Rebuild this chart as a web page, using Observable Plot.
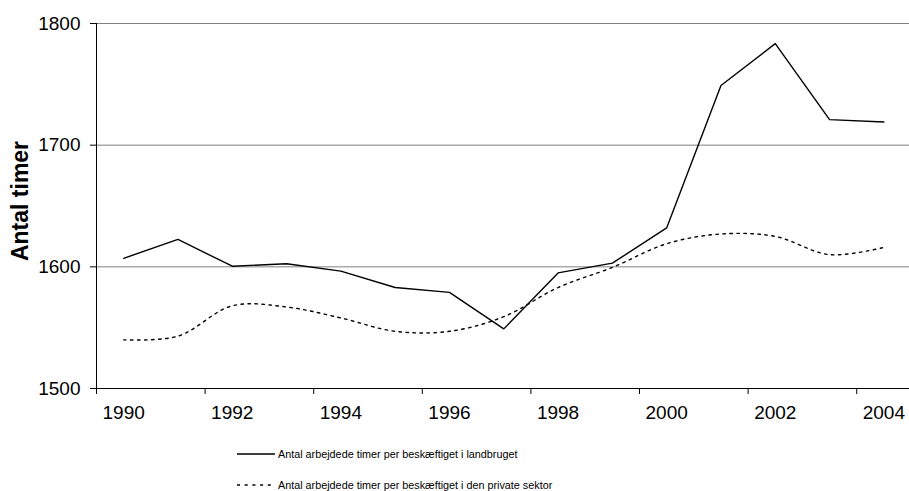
<!DOCTYPE html>
<html>
<head>
<meta charset="utf-8">
<script src="https://cdn.jsdelivr.net/npm/d3@7"></script>
<script src="https://cdn.jsdelivr.net/npm/@observablehq/plot@0.6"></script>
<style>
  html, body { margin: 0; padding: 0; background: #fff; }
  #wrap { position: relative; width: 909px; height: 491px; overflow: hidden; font-family: "Liberation Sans", Arial, sans-serif; }
  .leg { position: absolute; left: 237px; font-size: 10.8px; line-height: 12px; color: #000; display: flex; align-items: center; white-space: nowrap; }
  .leg svg { margin-right: 3px; }
</style>
</head>
<body>
<div id="wrap"></div>
<script>
const years = [1990,1991,1992,1993,1994,1995,1996,1997,1998,1999,2000,2001,2002,2003,2004];
const landbrug = [1607,1622.5,1600.5,1602.5,1596.5,1583,1579,1549,1595,1603,1632,1749,1783.5,1721,1719];
const privat = [1540,1543,1568,1567,1558,1547,1547,1559,1583,1599.5,1619,1627,1625,1610,1616];
const yTicks = [1500,1600,1700,1800];
const xLabels = [1990,1992,1994,1996,1998,2000,2002,2004];
const xBounds = [1989.5,1991.5,1993.5,1995.5,1997.5,1999.5,2001.5,2003.5];
const seriesNames = ["Antal arbejdede timer per beskæftiget i landbruget",
                     "Antal arbejdede timer per beskæftiget i den private sektor"];
const yTitle = "Antal timer";

const rowsA = years.map((y,i) => ({year: y, value: landbrug[i]}));
const rowsB = years.map((y,i) => ({year: y, value: privat[i]}));

const chart = Plot.plot({
  width: 909,
  height: 430,
  marginLeft: 96,
  marginRight: 0,
  marginTop: 23,
  marginBottom: 42,
  style: {fontFamily: '"Liberation Sans", Arial, sans-serif', color: "#000", background: "#fff", overflow: "visible"},
  x: {type: "linear", domain: [1989.5, 2004.472]},
  y: {domain: [1500, 1800]},
  marks: [
    Plot.gridY(yTicks.slice(1), {stroke: "#808080", strokeOpacity: 1, strokeWidth: 1}),
    Plot.ruleY([1500], {stroke: "#000", strokeWidth: 1}),
    Plot.ruleX([1989.5], {stroke: "#000", strokeWidth: 1}),
    Plot.axisY({ticks: yTicks, tickSize: 6, tickPadding: 10, fontSize: 19, label: null, tickFormat: d => String(d)}),
    Plot.axisX({ticks: xBounds, tickSize: 6, tickFormat: () => "", label: null}),
    Plot.axisX({ticks: xLabels, tickSize: 0, tickPadding: 17, fontSize: 19, label: null, tickFormat: d => String(d)}),
    Plot.text([yTitle], {frameAnchor: "left", textAnchor: "middle", dx: -76, dy: -5, rotate: -90, fontSize: 23, fontWeight: "bold", fill: "#000"}),
    Plot.line(rowsB, {x: "year", y: "value", stroke: "#000", strokeWidth: 1.4, strokeDasharray: "2.5,4.5", curve: "catmull-rom"}),
    Plot.line(rowsA, {x: "year", y: "value", stroke: "#000", strokeWidth: 1.4})
  ]
});

const wrap = document.getElementById("wrap");
wrap.appendChild(chart);

function legendRow(center, dash, name) {
  const d = document.createElement("div");
  d.className = "leg";
  d.style.top = (center - 6) + "px";
  d.style.height = "12px";
  d.innerHTML = `<svg width="38" height="4"><line x1="0" y1="2" x2="38" y2="2" stroke="#000" stroke-width="1.3" ${dash ? 'stroke-dasharray="3,4.7"' : ''}/></svg><span>${name}</span>`;
  wrap.appendChild(d);
}
legendRow(454, false, seriesNames[0]);
legendRow(485, true, seriesNames[1]);
</script>
</body>
</html>
